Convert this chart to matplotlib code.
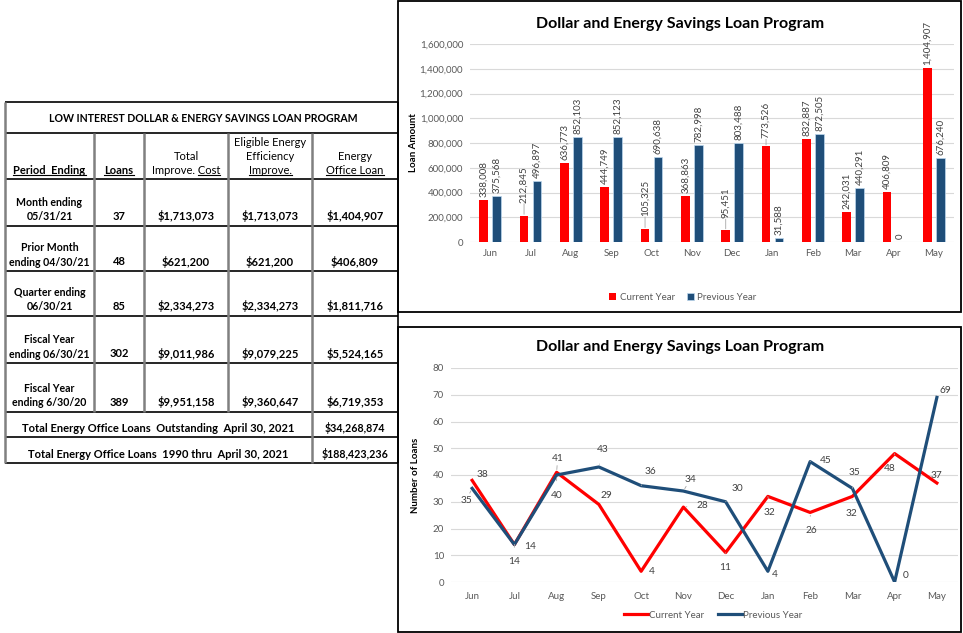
import matplotlib
matplotlib.use('Agg')
import matplotlib.pyplot as plt
import numpy as np
from matplotlib.patches import Rectangle
from matplotlib.ticker import FuncFormatter

plt.rcParams['font.family'] = ['Lato', 'DejaVu Sans']

# ---- data ----
months = ['Jun', 'Jul', 'Aug', 'Sep', 'Oct', 'Nov', 'Dec', 'Jan', 'Feb', 'Mar', 'Apr', 'May']
amount_current = [338008, 212845, 636773, 444749, 105325, 368863, 95451, 773526, 832887, 242031, 406809, 1404907]
amount_previous = [375568, 496897, 852103, 852123, 690638, 782998, 803488, 31588, 872505, 440291, 0, 676240]
loans_current = [38, 14, 41, 29, 4, 28, 11, 32, 26, 32, 48, 37]
loans_previous = [35, 14, 40, 43, 36, 34, 30, 4, 45, 35, 0, 69]
series_names = ['Current Year', 'Previous Year']
chart_title = 'Dollar and Energy Savings Loan Program'

table_title = 'LOW INTEREST DOLLAR & ENERGY SAVINGS LOAN PROGRAM'
period_labels = [('Month ending', '05/31/21'), ('Prior Month', 'ending 04/30/21'),
                 ('Quarter ending', '06/30/21'), ('Fiscal Year', 'ending 06/30/21'),
                 ('Fiscal Year', 'ending 6/30/20')]
row_loans = ['37', '48', '85', '302', '389']
row_total_cost = ['$1,713,073', '$621,200', '$2,334,273', '$9,011,986', '$9,951,158']
row_eligible = ['$1,713,073', '$621,200', '$2,334,273', '$9,079,225', '$9,360,647']
row_office_loan = ['$1,404,907', '$406,809', '$1,811,716', '$5,524,165', '$6,719,353']
total_labels = ['Total Energy Office Loans  Outstanding  April 30, 2021',
                'Total Energy Office Loans  1990 thru  April 30, 2021']
total_values = ['$34,268,874', '$188,423,236']

RED = '#FF0000'
NAVY = '#1F4E79'
GRID = '#D9D9D9'
TICK = '#595959'
W, H = 963, 633

fig = plt.figure(figsize=(W / 100, H / 100), dpi=100)

# background axes in pixel coordinates for table and chart frames
bg = fig.add_axes([0, 0, 1, 1])
bg.set_xlim(0, W)
bg.set_ylim(H, 0)
bg.axis('off')

# chart frames
bg.add_patch(Rectangle((398, 1), 563, 311, fill=False, edgecolor='black', lw=1.3))
bg.add_patch(Rectangle((398, 327), 563, 305, fill=False, edgecolor='black', lw=1.3))

# ---- table ----
rows_y = [102, 133, 179, 226, 271, 316, 363, 412, 437, 463]
cols_x = [5, 94, 144, 228, 312, 398]
for y in rows_y:
    bg.plot([cols_x[0], cols_x[-1]], [y, y], color='black', lw=1.2, solid_capstyle='butt')
for x in cols_x[1:4]:
    bg.plot([x, x], [rows_y[1], rows_y[7]], color='#808080', lw=1.8, solid_capstyle='butt')
bg.plot([cols_x[4], cols_x[4]], [rows_y[1], rows_y[-1]], color='#808080', lw=1.8, solid_capstyle='butt')
bg.plot([cols_x[0], cols_x[0]], [rows_y[0], rows_y[-1]], color='#808080', lw=1.8, solid_capstyle='butt')
bg.plot([cols_x[-1], cols_x[-1]], [rows_y[0], rows_y[-1]], color='black', lw=1.2, solid_capstyle='butt')

FS = 8.0
underlines = []


def cell_text(x, y, s, bold=False, underline=None, size=FS):
    t = bg.text(x, y, s, ha='center', va='center', fontsize=size,
                fontweight='bold' if bold else 'normal', color='black')
    if underline is not None:
        underlines.append((t, underline))
    return t


centers = [(cols_x[i] + cols_x[i + 1]) / 2 for i in range(5)]
cell_text((cols_x[0] + cols_x[-1]) / 2 + 2, (rows_y[0] + rows_y[1]) / 2 + 1, table_title,
          bold=True, size=7.6)

# header row
hb = rows_y[2]
cell_text(centers[0], hb - 8, 'Period  Ending', bold=True, underline='')
cell_text(centers[1], hb - 8, 'Loans', bold=True, underline='')
cell_text(centers[2], hb - 23, 'Total')
cell_text(centers[2], hb - 8, 'Improve. Cost', underline='Cost')
cell_text(centers[3], hb - 36, 'Eligible Energy')
cell_text(centers[3], hb - 22, 'Efficiency')
cell_text(centers[3], hb - 8, 'Improve.', underline='')
cell_text(centers[4], hb - 23, 'Energy')
cell_text(centers[4], hb - 8, 'Office Loan', underline='')

for i in range(5):
    bottom = rows_y[3 + i]
    cell_text(centers[0], bottom - 23.5, period_labels[i][0], bold=True, size=7.6)
    cell_text(centers[0], bottom - 9, period_labels[i][1], bold=True, size=7.6)
    cell_text(centers[1], bottom - 9.5, row_loans[i], bold=True)
    cell_text(centers[2], bottom - 9.5, row_total_cost[i], bold=True)
    cell_text(centers[3], bottom - 9.5, row_eligible[i], bold=True)
    cell_text(centers[4], bottom - 9.5, row_office_loan[i], bold=True)

for i in range(2):
    yc = (rows_y[7 + i] + rows_y[8 + i]) / 2 + 4
    cell_text((cols_x[0] + cols_x[4]) / 2, yc, total_labels[i], bold=True)
    cell_text(centers[4], yc, total_values[i], bold=True, size=7.7)

# ---- bar chart ----
ax1 = fig.add_axes([470 / W, 1 - 242 / H, (954 - 470) / W, (242 - 44) / H])
x = np.arange(len(months))
bw = 0.22
ax1.bar(x - 0.16, amount_current, bw, color=RED, label=series_names[0], zorder=3)
ax1.bar(x + 0.16, amount_previous, bw, color=NAVY, edgecolor='#BDD7EE', lw=0.5,
        label=series_names[1], zorder=3)
ax1.set_xlim(-0.5, len(months) - 0.5)
ax1.set_ylim(0, 1600000)
ax1.set_yticks(np.arange(0, 1600001, 200000))
ax1.yaxis.set_major_formatter(FuncFormatter(lambda v, p: f'{int(v):,}'))
ax1.set_xticks(x)
ax1.set_xticklabels(months)

# extra lift (px) for labels that Excel moved off the bar
bar_lift = {(0, 1): 10, (0, 4): 10, (0, 6): 9, (0, 7): 5}
for s, vals in enumerate([amount_current, amount_previous]):
    off = -0.16 if s == 0 else 0.16
    for i, v in enumerate(vals):
        lift = bar_lift.get((s, i), 0)
        ax1.annotate(f'{v:,}', (i + off, v), xytext=(0, (3 + lift) * 0.72),
                     textcoords='offset points', rotation=90, ha='center', va='bottom',
                     fontsize=7, color='#404040')
        if lift:
            ax1.annotate('', (i + off, v), xytext=(0, (2 + lift) * 0.72), textcoords='offset points',
                         arrowprops=dict(arrowstyle='-', color='#A6A6A6', lw=0.6, shrinkA=0, shrinkB=1))

# ---- line chart ----
ax2 = fig.add_axes([451 / W, 1 - 582 / H, (958 - 451) / W, (582 - 368) / H])
ax2.plot(x, loans_current, color=RED, lw=2.3, label=series_names[0], zorder=3)
ax2.plot(x, loans_previous, color=NAVY, lw=2.3, label=series_names[1], zorder=3)
ax2.set_xlim(-0.5, len(months) - 0.5)
ax2.set_ylim(0, 80)
ax2.set_yticks(np.arange(0, 81, 10))
ax2.set_xticks(x)
ax2.set_xticklabels(months)

# label offsets in px (dx, dy up)
cur_offsets = [(10, 6), (0, -17), (1, 14), (8, 9), (11, 0), (19, 2),
               (0, -15), (2, -16), (1, -18), (-1, -17), (-5, -15), (0, 8)]
prev_offsets = [(-6, -12), (16, -2), (0, -20), (4, 17), (9, 14), (7, 12),
                (12, 13), (7, -3), (16, 1), (2, 16), (11, 6), (9, 7)]
for vals, offs in [(loans_current, cur_offsets), (loans_previous, prev_offsets)]:
    for i, v in enumerate(vals):
        dx, dy = offs[i]
        dist = np.hypot(dx, dy)
        arrow = dict(arrowstyle='-', color='#A6A6A6', lw=0.6, shrinkA=5, shrinkB=2) if dist >= 13 else None
        ax2.annotate(str(v), (i, v), xytext=(dx * 0.72, dy * 0.72), textcoords='offset points',
                     ha='center', va='center', fontsize=7.3, color='#404040', arrowprops=arrow)

for ax in (ax1, ax2):
    ax.set_facecolor('none')
    for sp in ax.spines.values():
        sp.set_visible(False)
    ax.grid(axis='y', color=GRID, lw=0.8, zorder=0)
    ax.tick_params(length=0, labelsize=7, colors=TICK)
    ax.tick_params(axis='x', pad=5)
    ax.tick_params(axis='y', pad=5)
ax2.tick_params(axis='x', pad=7)

# titles, axis labels, legends
fig.text(680 / W, 1 - 24 / H, chart_title, ha='center', va='center', fontsize=11.5, fontweight='bold')
fig.text(680 / W, 1 - 347 / H, chart_title, ha='center', va='center', fontsize=11.5, fontweight='bold')
fig.text(413 / W, 1 - 143 / H, 'Loan Amount', rotation=90, ha='center', va='center',
         fontsize=7, fontweight='bold')
fig.text(415 / W, 1 - 475 / H, 'Number of Loans', rotation=90, ha='center', va='center',
         fontsize=7, fontweight='bold')

h1, l1 = ax1.get_legend_handles_labels()
fig.legend(h1, l1, loc='center', bbox_to_anchor=(683 / W, 1 - 297 / H), ncol=2, frameon=False,
           fontsize=7, handlelength=0.7, handleheight=0.7, columnspacing=1.2, handletextpad=0.4,
           labelcolor=TICK)
h2, l2 = ax2.get_legend_handles_labels()
fig.legend(h2, l2, loc='center', bbox_to_anchor=(713 / W, 1 - 615 / H), ncol=2, frameon=False,
           fontsize=7, handlelength=2.4, columnspacing=1.5, handletextpad=0.1, labelcolor=TICK)

# underline table headers
fig.canvas.draw()
r = fig.canvas.get_renderer()
inv = bg.transData.inverted()
for t, tail in underlines:
    bb = t.get_window_extent(r)
    x0 = bb.x0
    if tail:
        tmp = bg.text(0, 0, tail, fontsize=t.get_fontsize(), fontweight=t.get_fontweight())
        x0 = bb.x1 - tmp.get_window_extent(r).width
        tmp.remove()
    p0 = inv.transform((x0, bb.y0 + 1.5))
    p1 = inv.transform((bb.x1, bb.y0 + 1.5))
    bg.plot([p0[0], p1[0]], [p0[1], p1[1]], color='black', lw=0.8)

fig.savefig('out.png', dpi=100)
